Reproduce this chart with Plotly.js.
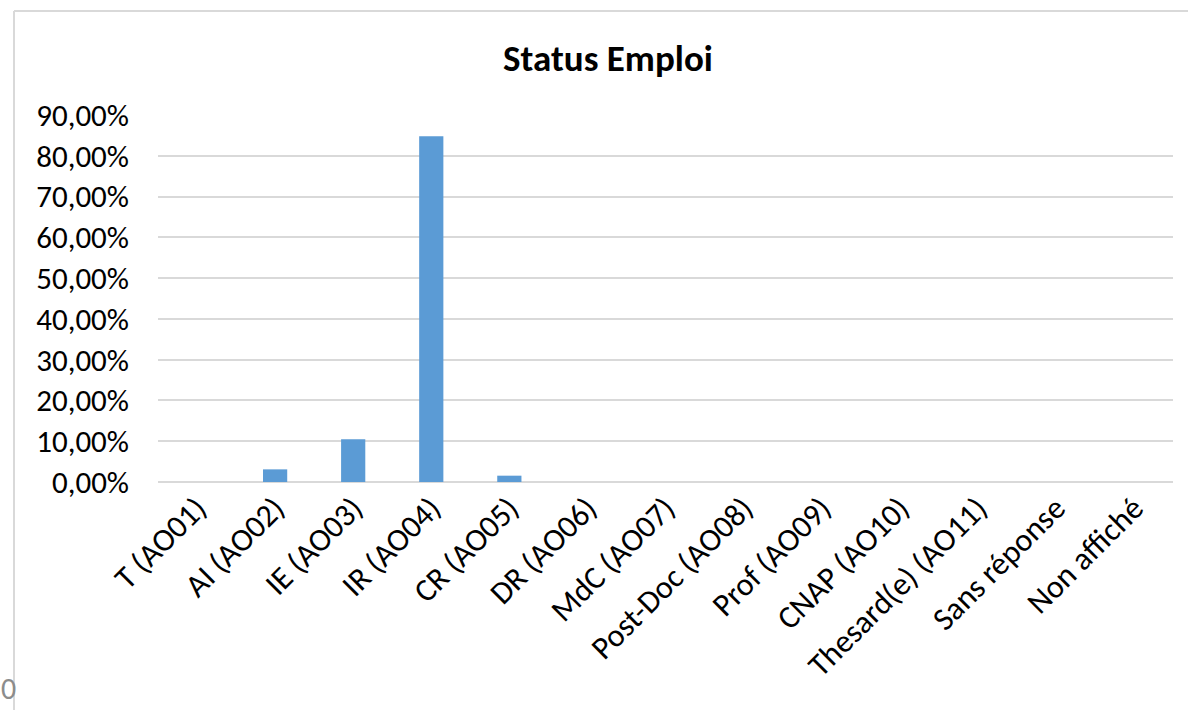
<!DOCTYPE html>
<html>
<head>
<meta charset="utf-8">
<script src="https://cdn.plot.ly/plotly-3.0.1.min.js"></script>
<style>
html,body{margin:0;padding:0;background:#fff;}
#chart{width:1188px;height:710px;}
</style>
</head>
<body>
<div id="chart"></div>
<script>
const categories = ["T (AO01)", "AI (AO02)", "IE (AO03)", "IR (AO04)", "CR (AO05)", "DR (AO06)", "MdC (AO07)", "Post-Doc (AO08)", "Prof (AO09)", "CNAP (AO10)", "Thesard(e) (AO11)", "Sans réponse", "Non affiché"];
const values = [0, 0.031, 0.105, 0.848, 0.0155, 0, 0, 0, 0, 0, 0, 0, 0];
const yTicks = [0, 0.1, 0.2, 0.3, 0.4, 0.5, 0.6, 0.7, 0.8, 0.9];
const chartTitle = "Status Emploi";

const W = 1188, H = 710;
const L = 158, R = 15, T = 115, B = 228;
const pw = W - L - R, ph = H - T - B;
function px2x(px){ return (px - L) / pw; }
function py2y(py){ return (H - B - py) / ph; }

const font = "Calibri, Carlito, 'Liberation Sans', Arial, sans-serif";

const trace = {
  type: "bar",
  x: categories,
  y: values,
  marker: {color: "#5B9BD5", line: {width: 0}},
  hoverinfo: "x+y"
};

const layout = {
  width: W, height: H,
  margin: {l: L, r: R, t: T, b: B},
  paper_bgcolor: "#ffffff",
  plot_bgcolor: "#ffffff",
  separators: ", ",
  showlegend: false,
  bargap: 0.69,
  font: {family: font, color: "#000000", size: 24},
  title: {
    text: "<b>" + chartTitle + "</b>",
    font: {family: font, size: 37, color: "#000000"},
    x: 608 / W, xref: "container", xanchor: "center",
    y: 1 - 58 / H, yref: "container", yanchor: "middle"
  },
  xaxis: {
    type: "category",
    tickangle: -45,
    showgrid: false,
    zeroline: false,
    showline: false,
    ticks: "",
    tickfont: {family: font, size: 32, color: "#000000"},
    automargin: false
  },
  yaxis: {
    range: [0, 0.9],
    tickvals: yTicks,
    tickformat: ".2%",
    showgrid: true,
    gridcolor: "#d9d9d9",
    gridwidth: 2,
    zeroline: true,
    zerolinecolor: "#d9d9d9",
    zerolinewidth: 2,
    showline: false,
    ticks: "",
    ticklabelstandoff: 28,
    tickfont: {family: font, size: 31, color: "#000000"},
    automargin: false,
    fixedrange: true
  },
  shapes: [
    {type: "line", xref: "paper", yref: "paper", x0: px2x(14), x1: px2x(14), y0: py2y(11), y1: py2y(720), line: {color: "#d9d9d9", width: 2}},
    {type: "line", xref: "paper", yref: "paper", x0: px2x(14), x1: px2x(1200), y0: py2y(11), y1: py2y(11), line: {color: "#d9d9d9", width: 2}}
  ],
  annotations: [
    {text: "0", xref: "paper", yref: "paper", x: px2x(-1), y: py2y(688), xanchor: "left", yanchor: "middle", showarrow: false, font: {family: font, size: 30, color: "#8c8c8c"}}
  ]
};

Plotly.newPlot("chart", [trace], layout, {displayModeBar: false});
</script>
</body>
</html>
